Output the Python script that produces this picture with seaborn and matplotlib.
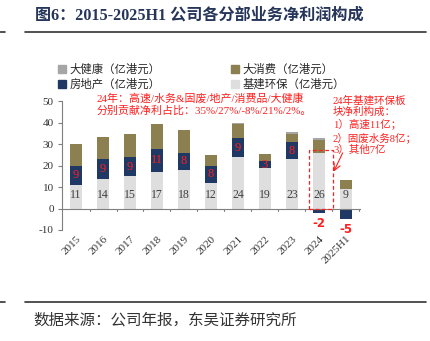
import matplotlib
matplotlib.use("Agg")
import matplotlib.pyplot as plt
from matplotlib.lines import Line2D
from matplotlib.patches import Patch, Rectangle
import numpy as np
import pandas as pd
import seaborn as sns

# Segment net profit, HK$ 100m
years = ["2015", "2016", "2017", "2018", "2019", "2020", "2021", "2022", "2023", "2024", "2025H1"]
infra = [11, 14, 15, 17, 18, 12, 24, 19, 23, 26, 9]          # 基建环保
property_ = [9, 9, 9, 11, 8, 8, 9, 3, 8, -2, -5]             # 房地产
consumer = [10.3, 10.6, 11.0, 11.4, 10.6, 5.0, 6.3, 3.6, 3.8, 6.0, 4.4]  # 大消费
health = [0.0, 0.0, 0.0, 0.3, 0.0, 0.0, 0.5, 0.0, 0.9, 0.9, 0.0]          # 大健康

yticks = [-10, 0, 10, 20, 30, 40, 50]

C_HEALTH = "#a6a6a6"
C_CONS = "#8c7f50"
C_PROP = "#1f3864"
C_INFRA = "#dedede"
RED = "#ff1f1f"
AXC = "#7f7f7f"
MIXED = ["Liberation Serif", "Noto Sans CJK SC"]
CJK = ["Noto Sans CJK SC", "DejaVu Sans"]

sns.set_theme(style="white")
plt.rcParams["font.family"] = MIXED
plt.rcParams["axes.unicode_minus"] = False

infra_a = np.array(infra, float)
prop_a = np.array(property_, float)
pos_prop = np.clip(prop_a, 0, None)
neg_prop = np.clip(prop_a, None, 0)
lvl1 = infra_a
lvl2 = lvl1 + pos_prop
lvl3 = lvl2 + np.array(consumer)
lvl4 = lvl3 + np.array(health)

df = pd.DataFrame({"year": years, "l1": lvl1, "l2": lvl2, "l3": lvl3,
                   "l4": lvl4, "neg": neg_prop})

fig = plt.figure(figsize=(4.31, 3.41), dpi=100)
W, H = 431, 341
ax = fig.add_axes([62 / W, 1 - 230 / H, 299 / W, 128.5 / H])

bw = 0.43
for col, c in [("l4", C_HEALTH), ("l3", C_CONS), ("l2", C_PROP),
               ("l1", C_INFRA), ("neg", C_PROP)]:
    sns.barplot(data=df, x="year", y=col, order=years, color=c,
                saturation=1, width=bw, ax=ax, linewidth=0)

ax.set_xlim(-0.52, len(years) - 0.44)
ax.set_ylim(-10, 50)
ax.set_xlabel("")
ax.set_ylabel("")

# axes styling
for s in ["top", "right", "bottom"]:
    ax.spines[s].set_visible(False)
ax.spines["left"].set_color(AXC)
ax.spines["left"].set_linewidth(0.8)
ax.set_yticks(yticks)
ax.set_yticklabels([str(t) for t in yticks], fontsize=8, color="#333333",
                   family="Liberation Serif")
ax.tick_params(axis="y", length=3, width=0.8, color=AXC, direction="out", pad=3,
               left=True)
ax.tick_params(axis="x", length=0, pad=3)
ax.set_xticks(range(len(years)))
ax.set_xticklabels(years, rotation=45, ha="right", va="top",
                   rotation_mode="anchor", fontsize=8, color="#333333",
                   family="Liberation Serif")
ax.grid(False)

# zero line with category separators
ax.axhline(0, color=AXC, lw=0.8, zorder=3)
for k in range(len(years)):
    ax.plot([k + 0.5, k + 0.5], [0, -0.9], color=AXC, lw=0.8, zorder=3,
            clip_on=False)

# value labels
for i, (b, p) in enumerate(zip(infra, property_)):
    ax.text(i, 6.5, f"{b}", ha="center", va="center", fontsize=8.5,
            color="#404040", family="Liberation Serif", zorder=4)
    if p > 0:
        ax.text(i, b + p / 2, f"{p}", ha="center", va="center", fontsize=9,
                color=RED, family="Liberation Serif", zorder=4)
    else:
        ax.text(i, p - 5.0, f"{p}", ha="center", va="center", fontsize=8.5,
                color=RED, family="DejaVu Sans", fontweight="bold", zorder=4)

# highlight the 2024 infra segment
i24 = years.index("2024")
ax.add_patch(Rectangle((i24 - 0.36, -0.2), 0.87, 27.7, fill=False, ec=RED,
                       lw=0.9, ls=(0, (3, 2)), zorder=5, clip_on=False))
ax.annotate("", xy=(i24 + 0.55, 17.3), xytext=(i24 + 0.88, 26.0),
            arrowprops=dict(arrowstyle="->", color=RED, lw=0.8,
                            shrinkA=0, shrinkB=0), zorder=5)

# notes
fig.text(97 / W, 1 - 93 / H,
         "24年：高速/水务&固废/地产/消费品/大健康\n分别贡献净利占比：35%/27%/-8%/21%/2%。",
         ha="left", va="top", fontsize=7.9, color=RED, family=MIXED,
         linespacing=1.2)
fig.text(333 / W, 1 - 95 / H,
         "24年基建环保板\n块净利构成：\n1）高速11亿；\n2）固废水务8亿；\n3）其他7亿",
         ha="left", va="top", fontsize=7.6, color=RED, family=MIXED,
         linespacing=1.2)

# legend
handles = [Patch(color=C_HEALTH, label="大健康（亿港元）"),
           Patch(color=C_PROP, label="房地产（亿港元）"),
           Patch(color=C_CONS, label="大消费（亿港元）"),
           Patch(color=C_INFRA, label="基建环保（亿港元）")]
fig.legend(handles=handles, ncol=2, loc="upper left",
           bbox_to_anchor=(58 / W, 1 - 64 / H), frameon=False,
           prop={"family": MIXED, "size": 8.2}, handlelength=0.7,
           handleheight=0.7, handletextpad=0.3, columnspacing=6.2,
           labelspacing=0.3, borderaxespad=0, borderpad=0)

# title and rules
fig.text(35 / W, 1 - 16 / H, "图6：2015-2025H1 公司各分部业务净利润构成",
         ha="left", va="center", fontsize=11.6, fontweight="bold",
         color="#26365a", family=MIXED)
for yy in (32, 302):
    fig.add_artist(Line2D([25 / W, 426 / W], [1 - yy / H, 1 - yy / H],
                          color="#333333", lw=1.2))
    fig.add_artist(Line2D([0, 5 / W], [1 - yy / H, 1 - yy / H],
                          color="#333333", lw=1.2))
fig.text(33 / W, 1 - 320 / H, "数据来源：公司年报，东吴证券研究所",
         ha="left", va="center", fontsize=11.2, color="#333333", family=CJK)

fig.savefig("out.png", dpi=100)
